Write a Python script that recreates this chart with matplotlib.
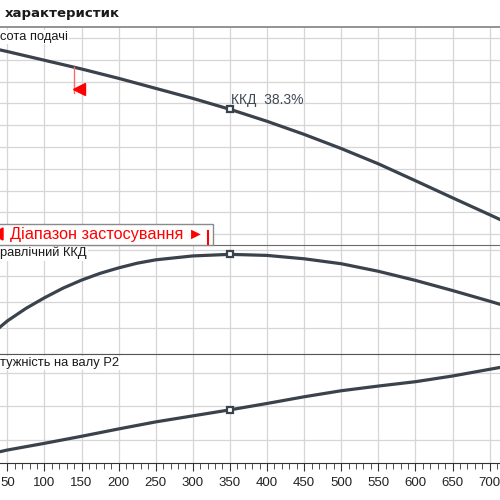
import matplotlib.pyplot as plt
from matplotlib.ticker import MultipleLocator
from matplotlib.patches import Rectangle, Polygon
from matplotlib.lines import Line2D

plt.rcParams['font.family'] = ['Liberation Sans', 'DejaVu Sans']

# подача, м3/год
q = [40, 50, 100, 150, 200, 250, 300, 350, 400, 450, 500, 550, 600, 650, 700, 720]
# висота подачі
head = [18.9, 18.75, 17.95, 17.15, 16.29, 15.37, 14.45, 13.45, 12.35, 11.15, 9.85, 8.45, 6.9, 5.33, 3.78, 3.15]
# потужність на валу P2
power = [26.5, 27.0, 29.0, 31.1, 33.3, 35.4, 37.2, 39.0, 40.9, 42.9, 44.7, 46.1, 47.4, 49.1, 51.1, 51.9]
# гідравлічний ККД, %
q_eff = [40, 50, 75, 100, 125, 150, 175, 200, 225, 250, 300, 350, 400, 450, 500, 550, 600, 650, 700, 720]
eff = [10.3, 12.7, 17.5, 21.6, 25.3, 28.4, 31.0, 33.1, 34.9, 36.2, 37.7, 38.3, 37.9, 36.6, 34.7, 31.8, 28.3, 24.4, 20.3, 18.6]

q_duty = 350
eff_duty = 38.3
q_min = 140

line_c = '#3a424c'
grid_c = '#d6d6d6'

fig = plt.figure(figsize=(5, 5), dpi=100)
ax1 = fig.add_axes([0, 0.51, 1, 0.436])
ax2 = fig.add_axes([0, 0.292, 1, 0.218], sharex=ax1)
ax3 = fig.add_axes([0, 0.074, 1, 0.218], sharex=ax1)

ax1.set_xlim(40.16, 714.0)
ax1.xaxis.set_major_locator(MultipleLocator(50))
ax1.xaxis.set_minor_locator(MultipleLocator(10))

ax1.set_ylim(1, 21)
ax1.set_yticks(range(2, 21, 2))
ax2.set_ylim(0, 41.9)
ax2.set_yticks([0, 10, 20, 30, 40])
ax3.set_ylim(23.13, 55.67)
ax3.set_yticks([30, 40, 50])

for ax in (ax1, ax2, ax3):
    ax.set_axisbelow(True)
    ax.grid(True, color=grid_c, lw=0.9)
    ax.spines['left'].set_visible(False)
    ax.spines['right'].set_visible(False)
    ax.spines['bottom'].set_visible(False)
    ax.tick_params(axis='y', left=False, labelleft=False)
    ax.tick_params(axis='x', which='both', bottom=False, labelbottom=False)

ax1.spines['top'].set_color('#8a8a8a')
ax1.spines['top'].set_linewidth(1.3)
ax2.spines['top'].set_color('#6a6a6a')
ax3.spines['top'].set_color('#555555')
ax3.spines['bottom'].set_visible(True)
ax3.spines['bottom'].set_color('#333333')
ax3.tick_params(axis='x', which='both', bottom=True, labelbottom=True, colors='#333333',
                direction='out', labelsize=9.5, labelcolor='#222222')
ax3.tick_params(axis='x', which='major', length=6, pad=4)
ax3.tick_params(axis='x', which='minor', length=4)

# криві
ax1.plot(q, head, color=line_c, lw=2.3)
ax2.plot(q_eff, eff, color=line_c, lw=2.3)
ax3.plot(q, power, color=line_c, lw=2.3)

i = q.index(q_duty)
j = q_eff.index(q_duty)
for ax, y in ((ax1, head[i]), (ax2, eff[j]), (ax3, power[i])):
    ax.plot(q_duty, y, marker='s', ms=5, mfc='white', mec=line_c, mew=1.6, zorder=5)

ax1.annotate(f'ККД  {eff_duty}%', (q_duty, head[i]), xytext=(1, 7), textcoords='offset points',
             ha='left', va='center', fontsize=10, color='#3f4a55')

# мінімальна подача
h_min = 17.33
ax1.plot([q_min, q_min], [h_min, 14.9], color='#ff6b6b', lw=1)
ax1.plot(q_min + 7, 15.35, marker='<', ms=8, color='red', mec='red')


def ftext(x, y, s, **kw):
    return fig.text(x / 500, 1 - y / 500, s, **kw)


# підписи панелей
box = dict(facecolor='white', edgecolor='none', pad=1)
ftext(5, 14, 'характеристик', fontsize=9.5, fontweight='bold', family='DejaVu Sans',
      va='center', ha='left', color='#1a1a1a')
ftext(0, 37, 'сота подачі', fontsize=9.3, ha='left', va='center', bbox=box, color='#1a1a1a')
ftext(0, 253, 'равлічний ККД', fontsize=9.3, ha='left', va='center', bbox=box, color='#1a1a1a')
ftext(0, 363, 'тужність на валу P2', fontsize=9.3, ha='left', va='center', bbox=box, color='#1a1a1a')

# діапазон застосування
fig.add_artist(Rectangle((-0.01, 1 - 244.5 / 500), 0.01 + 212.5 / 500, 20 / 500,
                         transform=fig.transFigure, facecolor='white', edgecolor='#8a8a8a', lw=1, zorder=6))
fig.add_artist(Polygon([(-8 / 500, 1 - 234 / 500), (3 / 500, 1 - 228 / 500), (3 / 500, 1 - 240 / 500)],
                       closed=True, transform=fig.transFigure, color='red', zorder=7))
ftext(204, 234, 'Діапазон застосування ►', fontsize=11.7, color='red', ha='right', va='center', zorder=7)
fig.add_artist(Line2D([208 / 500, 208 / 500], [1 - 244 / 500, 1 - 231 / 500], color='red', lw=1.5,
                      transform=fig.transFigure, zorder=7))

plt.savefig('out.png', dpi=100)
